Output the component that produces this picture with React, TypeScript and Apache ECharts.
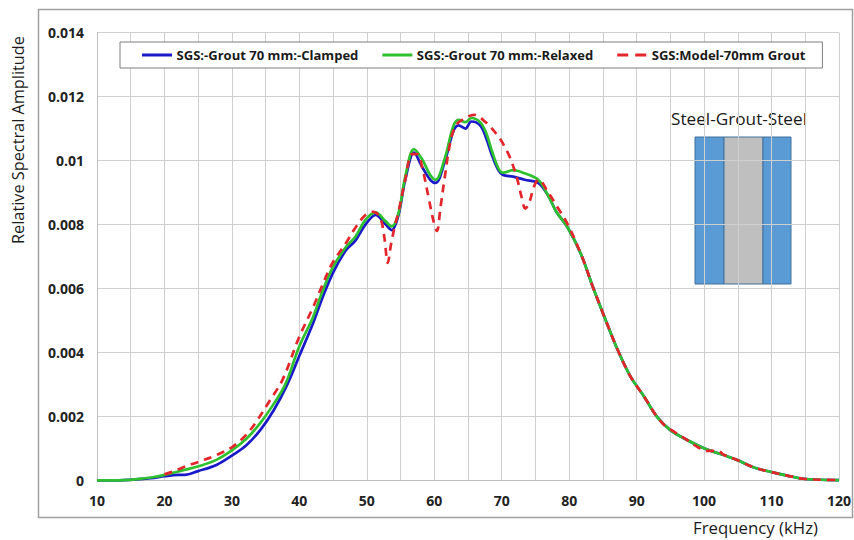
import React, { useEffect, useRef } from "react";
import * as echarts from "echarts";

const seriesNames = [
  "SGS:-Grout 70 mm:-Clamped",
  "SGS:-Grout 70 mm:-Relaxed",
  "SGS:Model-70mm Grout",
];

const clampedFreq = [10, 14, 18, 20, 22, 23, 25, 27.7, 30.1, 32.1, 34.2, 36.2, 38.2, 40, 42, 43.4, 45, 46.9, 48.3, 49.8, 51.3, 52.8, 53.7, 54.7, 55.7, 57, 58.2, 59.4, 60.2, 61.6, 62.8, 63.6, 64.6, 65.5, 66.8, 67.7, 68.5, 69.5, 70.2, 71.7, 73.4, 75.4, 76.9, 78.1, 79.8, 81.8, 83.5, 85.2, 87.2, 89.1, 91.1, 93, 95, 97.5, 100, 102.9, 104.9, 107.3, 109.8, 112.3, 114.7, 117.2, 120];
const clampedAmp = [0.00001, 0.00002, 0.00008, 0.00014, 0.00018, 0.00018, 0.0003, 0.00049, 0.0008, 0.0011, 0.00158, 0.0022, 0.003, 0.0039, 0.0049, 0.0057, 0.0065, 0.0072, 0.0075, 0.008, 0.0083, 0.008, 0.00783, 0.0083, 0.0094, 0.01025, 0.0098, 0.0094, 0.0093, 0.01, 0.0109, 0.0111, 0.011, 0.01122, 0.0111, 0.0107, 0.0102, 0.0097, 0.00955, 0.0095, 0.0094, 0.0093, 0.0089, 0.0084, 0.0079, 0.00705, 0.00606, 0.00513, 0.00408, 0.00325, 0.00263, 0.002, 0.00158, 0.00127, 0.00101, 0.0008, 0.00065, 0.00042, 0.00028, 0.00016, 0.00006, 0.00003, 0.00002];

const relaxedFreq = [10, 14, 16, 18, 20, 22.8, 25.2, 27.7, 30.1, 32.1, 34.2, 36.2, 37.9, 40, 42, 43.4, 44.9, 46.9, 48.3, 49.8, 51.3, 52.8, 53.7, 54.7, 55.7, 57, 58.2, 59.4, 60.2, 61.6, 62.8, 63.6, 64.6, 65.5, 66.8, 67.7, 68.5, 69.5, 70.2, 71.7, 73.4, 75.4, 76.9, 78.1, 79.8, 81.8, 83.5, 85.2, 87.2, 89.1, 91.1, 93, 95, 97.5, 100, 102.9, 104.9, 107.3, 109.8, 112.3, 114.7, 117.2, 120];
const relaxedAmp = [0.00001, 0.00002, 0.00005, 0.0001, 0.00018, 0.00033, 0.00046, 0.00065, 0.00096, 0.0013, 0.0018, 0.0024, 0.003, 0.0042, 0.0051, 0.0059, 0.00664, 0.0073, 0.00762, 0.00815, 0.00838, 0.0081, 0.00794, 0.00836, 0.0095, 0.01036, 0.01004, 0.00955, 0.0094, 0.0101, 0.01106, 0.01127, 0.0112, 0.01133, 0.0112, 0.01086, 0.01033, 0.00976, 0.00962, 0.0097, 0.0096, 0.0094, 0.0089, 0.0084, 0.0079, 0.00705, 0.00606, 0.00513, 0.00408, 0.00325, 0.00263, 0.002, 0.00158, 0.00127, 0.00101, 0.0008, 0.00065, 0.00042, 0.00028, 0.00016, 0.00006, 0.00003, 0.00002];

const modelFreq = [20, 21.2, 22.8, 25.2, 27.7, 30.1, 32.1, 33.6, 35.6, 37.5, 40, 42, 43.4, 44.9, 46.9, 48.3, 49.8, 51, 52, 52.6, 53.1, 53.6, 54.2, 54.7, 55.7, 56.7, 57.5, 58.2, 59.2, 59.9, 60.4, 60.9, 61.5, 62.4, 63.2, 64.2, 65.9, 67.5, 69.5, 71, 72.2, 72.9, 73.5, 74.1, 74.8, 75.5, 76.9, 78.1, 79.8, 81.8, 83.5, 85.2, 87.2, 89.1, 91.1, 93, 94.3, 95, 97.5, 99.2, 100.5, 102, 103, 104.9, 107.3, 109.8, 112.3, 114.7, 117.2, 120];
const modelAmp = [0.0002, 0.00028, 0.00042, 0.0006, 0.0008, 0.00106, 0.00143, 0.00184, 0.0025, 0.00315, 0.0045, 0.0054, 0.0061, 0.0068, 0.00742, 0.0079, 0.0083, 0.0084, 0.0082, 0.0076, 0.0068, 0.0074, 0.008, 0.0084, 0.0094, 0.0102, 0.0102, 0.0098, 0.0088, 0.0081, 0.0078, 0.0085, 0.0094, 0.0106, 0.0111, 0.01128, 0.01143, 0.01122, 0.01075, 0.0102, 0.0095, 0.0089, 0.0085, 0.0087, 0.0092, 0.0094, 0.009, 0.0086, 0.008, 0.00705, 0.00606, 0.00513, 0.00408, 0.00325, 0.00263, 0.002, 0.0017, 0.0016, 0.00127, 0.00103, 0.00093, 0.00093, 0.0008, 0.00065, 0.00042, 0.00028, 0.00016, 0.00006, 0.00003, 0.00002];

const lineColors = ["#1a1ac8", "#2ec02e", "#e3262b"];

const zip = (xs: number[], ys: number[]) => xs.map((x, i) => [x, ys[i]]);

const solidIcon = "path://M0,0H30V3H0Z";
const dashedIcon = "path://M0,0H11V3H0Z M18,0H29V3H18Z M29.9,0H30V3H29.9Z";

export default function App() {
  const ref = useRef<HTMLDivElement>(null);
  useEffect(() => {
    if (!ref.current) return;
    const chart = echarts.init(ref.current, undefined, { renderer: "svg" });
    const font = "'Open Sans', sans-serif";
    chart.setOption({
      animation: false,
      backgroundColor: "#ffffff",
      grid: { left: 97, right: 12, top: 32.5, bottom: 59.3 },
      legend: {
        left: 120,
        top: 42,
        orient: "horizontal",
        backgroundColor: "#ffffff",
        borderColor: "#7f7f7f",
        borderWidth: 1,
        borderRadius: 0,
        padding: [6.5, 17, 6.5, 22],
        itemGap: 24,
        itemWidth: 33,
        itemHeight: 3,
        textStyle: { fontFamily: font, fontWeight: "bold", fontSize: 13.05, color: "#1a1a1a", padding: [0, 0, 0, -2] },
        data: [
          { name: seriesNames[0], icon: solidIcon },
          { name: seriesNames[1], icon: solidIcon },
          { name: seriesNames[2], icon: dashedIcon },
        ],
      },
      xAxis: {
        type: "value",
        min: 10,
        max: 120,
        interval: 5,
        axisLine: { show: true, lineStyle: { color: "#bfbfbf", width: 1 } },
        axisTick: { show: false },
        splitLine: { show: true, lineStyle: { color: "#cfcfcf", width: 1 } },
        axisLabel: {
          margin: 13,
          fontFamily: font,
          fontWeight: "bold",
          fontSize: 14,
          color: "#222",
          formatter: (v: number) => (v % 10 === 0 ? String(v) : ""),
        },
      },
      yAxis: {
        type: "value",
        min: 0,
        max: 0.014,
        interval: 0.002,
        axisLine: { show: true, lineStyle: { color: "#bfbfbf", width: 1 } },
        axisTick: { show: false },
        splitLine: { show: true, lineStyle: { color: "#cfcfcf", width: 1 } },
        axisLabel: {
          margin: 13,
          fontFamily: font,
          fontWeight: "bold",
          fontSize: 14,
          color: "#222",
          formatter: (v: number) => String(parseFloat(v.toFixed(3))),
        },
      },
      graphic: [
        {
          type: "rect",
          left: 36,
          top: 7,
          shape: { width: 814, height: 508 },
          style: { fill: "none", stroke: "#a0a0a0", lineWidth: 1.5 },
          silent: true,
          z: -1,
        },
        {
          type: "text",
          x: 18,
          y: 140,
          rotation: Math.PI / 2,
          style: {
            text: "Relative Spectral Amplitude",
            fontFamily: font,
            fontSize: 16.3,
            fill: "#1a1a1a",
            align: "center",
            verticalAlign: "middle",
          },
        },
        {
          type: "text",
          x: 755.5,
          y: 527,
          style: {
            text: "Frequency (kHz)",
            fontFamily: font,
            fontSize: 16.8,
            fill: "#1a1a1a",
            align: "center",
            verticalAlign: "middle",
          },
        },
        {
          type: "rect",
          shape: { x: 662, y: 102, width: 154, height: 33 },
          style: { fill: "#ffffff" },
        },
        {
          type: "text",
          x: 739,
          y: 118.5,
          style: {
            text: "Steel-Grout-Steel",
            fontFamily: font,
            fontSize: 17.2,
            fill: "#1a1a1a",
            align: "center",
            verticalAlign: "middle",
          },
        },
        {
          type: "rect",
          shape: { x: 695, y: 137, width: 29, height: 147 },
          style: { fill: "#5b9bd5", stroke: "#41719c", lineWidth: 1 },
        },
        {
          type: "rect",
          shape: { x: 724, y: 137, width: 39, height: 147 },
          style: { fill: "#bfbfbf", stroke: "#41719c", lineWidth: 1 },
        },
        {
          type: "rect",
          shape: { x: 763, y: 137, width: 28, height: 147 },
          style: { fill: "#5b9bd5", stroke: "#41719c", lineWidth: 1 },
        },
      ],
      series: [
        {
          name: seriesNames[0],
          type: "line",
          data: zip(clampedFreq, clampedAmp),
          smooth: 0.35,
          symbol: "none",
          lineStyle: { color: lineColors[0], width: 2.7 },
          itemStyle: { color: lineColors[0] },
          z: 2,
        },
        {
          name: seriesNames[1],
          type: "line",
          data: zip(relaxedFreq, relaxedAmp),
          smooth: 0.35,
          symbol: "none",
          lineStyle: { color: lineColors[1], width: 2.7 },
          itemStyle: { color: lineColors[1] },
          z: 3,
        },
        {
          name: seriesNames[2],
          type: "line",
          data: zip(modelFreq, modelAmp),
          smooth: 0.35,
          symbol: "none",
          lineStyle: { color: lineColors[2], width: 2.7, type: [8, 6] },
          itemStyle: { color: lineColors[2] },
          z: 4,
        },
      ],
    });
    return () => chart.dispose();
  }, []);
  return (
    <div
      ref={ref}
      style={{ position: "absolute", left: 0, top: 0, width: 854, height: 540 }}
    />
  );
}
